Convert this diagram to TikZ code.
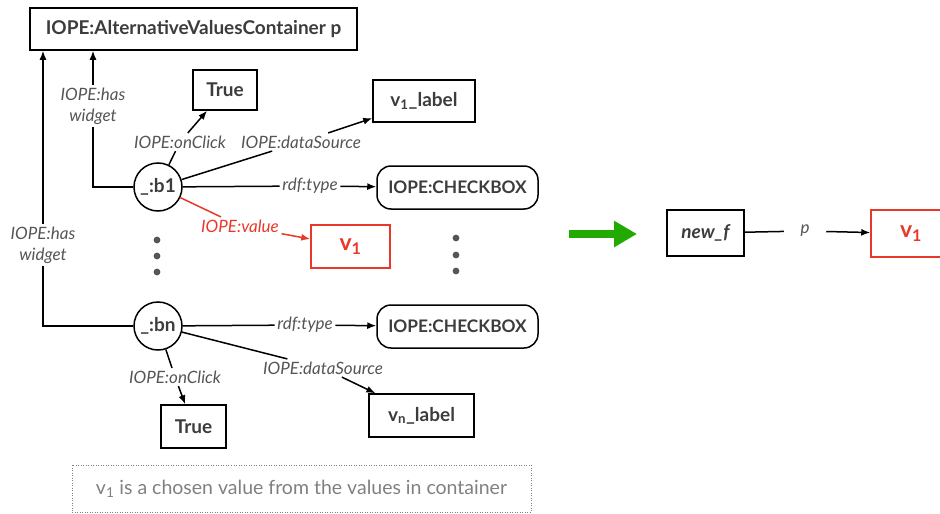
\documentclass[tikz,border=0pt]{standalone}
\usepackage{fontspec}
\setmainfont{Lato}
\usepackage{tikz}
\usetikzlibrary{arrows.meta, positioning}
\definecolor{txtgray}{HTML}{3C3C3C}
\definecolor{lblgray}{HTML}{555555}
\definecolor{notegray}{HTML}{808080}
\definecolor{valred}{HTML}{E8382A}
\definecolor{arrgreen}{HTML}{22AA00}

\begin{document}
\begin{tikzpicture}[x=1pt, y=-1pt, >={Latex[length=9pt, width=7pt]}, line width=1.5pt,
  box/.style={draw, rectangle, inner sep=0pt, text=txtgray, font=\fontsize{19}{22}\selectfont\bfseries},
  typebox/.style={box, rounded corners=14pt, minimum width=161pt, minimum height=43pt, font=\fontsize{17.3}{20}\selectfont\bfseries},
  valbox/.style={box, draw=valred, text=valred, font=\fontsize{23}{26}\selectfont\bfseries},
  blank/.style={draw, circle, minimum size=48pt, inner sep=0pt, text=txtgray, font=\fontsize{19}{22}\selectfont\bfseries},
  lbl/.style={inner sep=2pt, align=center, text=lblgray, font=\fontsize{17}{21}\selectfont\itshape},
  dot/.style={circle, fill=lblgray, inner sep=2.4pt}
]
\useasboundingbox (0,0) rectangle (940,514);

\node (top) at (193.5,29) [box, minimum width=327pt, minimum height=42pt] {IOPE:AlternativeValuesContainer p};
\node (true1) at (225,90) [box, minimum width=64pt, minimum height=40pt] {True};
\node (v1lab) at (424,101) [box, minimum width=102pt, minimum height=42pt] {v\textsubscript{1}\_label};
\node (b1) at (158,187) [blank] {\_:b1};
\node (cb1) at (457.5,187.5) [typebox] {IOPE:CHECKBOX};
\node (val) at (350.5,246.5) [valbox, minimum width=79pt, minimum height=43pt] {v\textsubscript{1}};

\node (bn) at (158,326) [blank] {\_:bn};
\node (cb2) at (457.5,326.5) [typebox] {IOPE:CHECKBOX};
\node (true2) at (193.5,426.5) [box, minimum width=65pt, minimum height=43pt] {True};
\node (vnlab) at (421.5,415.5) [box, minimum width=105pt, minimum height=43pt] {v\textsubscript{n}\_label};

\node (d1) at (157,240) [dot] {};
\node (d2) at (157,256) [dot] {};
\node (d3) at (157,272) [dot] {};
\node (d4) at (456,238) [dot] {};
\node (d5) at (456,255) [dot] {};
\node (d6) at (456,271) [dot] {};

\node (note) at (301.5,488.5) [draw=notegray, line width=1pt, dash pattern=on 1pt off 1.5pt, minimum width=459pt, minimum height=47pt, text=notegray, font=\fontsize{19.5}{22}\selectfont] {v\textsubscript{1} is a chosen value from the values in container};

\node (hw1) at (93,106) [lbl] {IOPE:has\\widget};
\node (hw2) at (43,245) [lbl] {IOPE:has\\widget};
\node (click1) at (180,142) [lbl] {IOPE:onClick};
\node (src1) at (301,142) [lbl] {IOPE:dataSource};
\node (type1) at (310,186) [lbl] {rdf:type};
\node (value) at (240,226) [lbl, text=valred] {IOPE:value};
\node (type2) at (305,325) [lbl] {rdf:type};
\node (click2) at (175,377) [lbl] {IOPE:onClick};
\node (src2) at (323,368) [lbl] {IOPE:dataSource};

\coordinate (c1) at (93,187);
\coordinate (c2) at (43,326);

\draw (b1) -- (c1) -- (hw1);
\draw[->] (hw1) -- (hw1 |- top.south);
\draw (bn) -- (c2) -- (hw2);
\draw[->] (hw2) -- (hw2 |- top.south);

\draw (b1) -- (click1);
\draw[->] (click1) -- (true1);
\draw (b1) -- (src1);
\draw[->] (src1) -- (v1lab);
\draw (b1) -- (type1);
\draw[->] (type1) -- (cb1);
\draw[valred] (b1) -- (value);
\draw[valred, ->] (value) -- (val);

\draw (bn) -- (type2);
\draw[->] (type2) -- (cb2);
\draw (bn) -- (click2);
\draw[->] (click2) -- (true2);
\draw (bn) -- (src2);
\draw[->] (src2) -- (vnlab);

\coordinate (g1) at (569,234);
\coordinate (g2) at (637,234);
\draw[arrgreen, line width=8pt, -{Triangle[length=23pt, width=25pt]}] (g1) -- (g2);

\node (newf) at (705.5,233) [box, minimum width=77pt, minimum height=46pt, font=\fontsize{19}{22}\selectfont\bfseries\itshape] {new\_f};
\node (p) at (805,231) [lbl, inner xsep=16pt] {p};
\node (v1r) at (911,233.5) [valbox, minimum width=80pt, minimum height=47pt] {v\textsubscript{1}};
\draw (newf) -- (p);
\draw[->] (p) -- (v1r);

\end{tikzpicture}
\end{document}
